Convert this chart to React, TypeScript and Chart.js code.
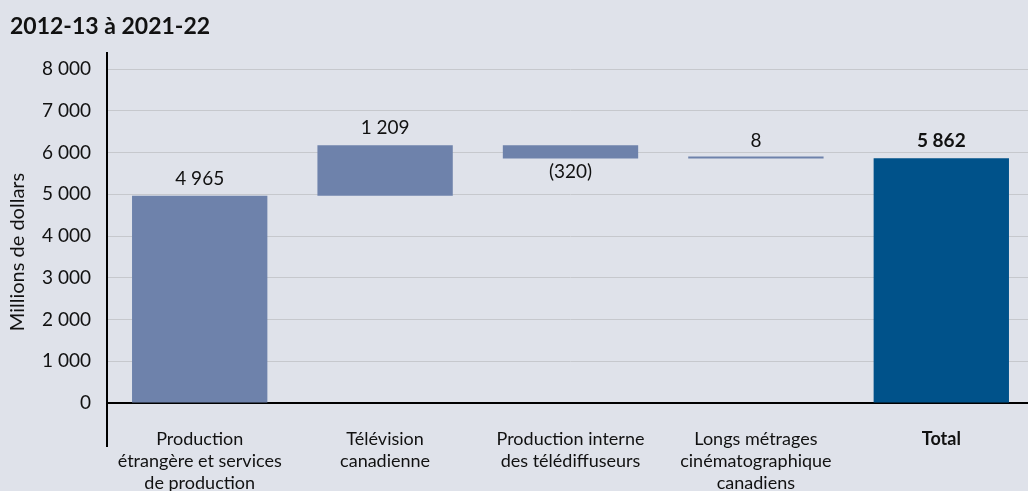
import React, { useEffect, useRef } from "react";
import { Chart, registerables } from "chart.js";

Chart.register(...registerables);

const title = "2012-13 à 2021-22";
const categories: (string | string[])[] = [
  ["Production", "étrangère et services", "de production"],
  ["Télévision", "canadienne"],
  ["Production interne", "des télédiffuseurs"],
  ["Longs métrages", "cinématographique", "canadiens"],
  "Total",
];
const changes = [4965, 1209, -320, 8];
const total = 5862;
const valueLabels = ["4 965", "1 209", "(320)", "8", "5 862"];
const yTicks = [0, 1000, 2000, 3000, 4000, 5000, 6000, 7000, 8000];
const yTitle = "Millions de dollars";

const BAR = "#6E82AB";
const TOTAL = "#00528A";
const BG = "#DFE2EA";
const FONT = "Lato, 'Open Sans', sans-serif";

function fmt(v: number) {
  return String(v).replace(/\B(?=(\d{3})+(?!\d))/g, " ");
}

export default function App() {
  const ref = useRef<HTMLCanvasElement>(null);
  useEffect(() => {
    document.body.style.margin = "0";
    const ranges: [number, number][] = [];
    let run = 0;
    changes.forEach((c) => {
      ranges.push([run, run + c]);
      run += c;
    });
    ranges.push([0, total]);

    const overlay = {
      id: "overlay",
      afterDraw(chart: any) {
        const { ctx, chartArea, scales } = chart;
        const y = scales.y;
        const meta = chart.getDatasetMeta(0);
        ctx.save();
        // title
        ctx.fillStyle = "#111";
        ctx.font = `bold 23px ${FONT}`;
        ctx.textBaseline = "middle";
        ctx.textAlign = "left";
        ctx.fillText(title, 10, 27);
        // y title
        ctx.save();
        ctx.translate(18, 252);
        ctx.rotate(-Math.PI / 2);
        ctx.textAlign = "center";
        ctx.font = `20px ${FONT}`;
        ctx.fillText(yTitle, 0, 0);
        ctx.restore();
        // left axis line
        ctx.strokeStyle = "#000";
        ctx.lineWidth = 2;
        ctx.beginPath();
        ctx.moveTo(chartArea.left, chartArea.top - 17);
        ctx.lineTo(chartArea.left, y.getPixelForValue(0) + 44);
        ctx.stroke();
        // value labels
        ctx.textAlign = "center";
        meta.data.forEach((bar: any, i: number) => {
          const r = ranges[i];
          const neg = r[1] < r[0];
          const top = y.getPixelForValue(Math.max(r[0], r[1]));
          const bot = y.getPixelForValue(Math.min(r[0], r[1]));
          ctx.font = `${i === 4 ? "bold " : ""}19px ${FONT}`;
          ctx.fillStyle = "#111";
          const yy = neg ? bot + 13 : top - 17;
          ctx.fillText(valueLabels[i], bar.x, yy);
        });
        ctx.restore();
      },
    };

    const chart = new Chart(ref.current!, {
      type: "bar",
      data: {
        labels: categories,
        datasets: [
          {
            data: ranges as any,
            backgroundColor: [BAR, BAR, BAR, BAR, TOTAL],
            borderWidth: 0,
            barPercentage: 0.73,
            categoryPercentage: 1,
            minBarLength: 2,
          },
        ],
      },
      options: {
        animation: false,
        responsive: false,
        maintainAspectRatio: false,
        layout: { padding: { top: 69, left: 0, right: 0, bottom: 0 } },
        plugins: { legend: { display: false }, tooltip: { enabled: false }, title: { display: false } },
        scales: {
          x: {
            grid: { display: false, drawTicks: false },
            border: { display: true, color: "#000", width: 2 },
            ticks: {
              padding: 25,
              color: "#111",
              maxRotation: 0,
              autoSkip: false,
              font: (c: any) => ({ family: FONT, size: 18, weight: c.index === 4 ? "bold" : "normal", lineHeight: 1.22 }),
            },
            afterFit: (s: any) => {
              s.height = 88;
            },
          },
          y: {
            min: 0,
            max: 8000,
            afterBuildTicks: (s: any) => {
              s.ticks = yTicks.map((v) => ({ value: v }));
            },
            grid: {
              color: (c: any) => (c.tick && c.tick.value === 0 ? "rgba(0,0,0,0)" : "#C6C8CD"),
              lineWidth: 1,
              drawTicks: false,
            },
            border: { display: false },
            ticks: {
              padding: 16,
              color: "#111",
              font: { family: FONT, size: 19 },
              callback: (v: any) => fmt(Number(v)),
            },
            afterFit: (s: any) => {
              s.width = 107;
            },
          },
        },
      },
      plugins: [overlay],
    });
    return () => chart.destroy();
  }, []);
  return (
    <div style={{ position: "fixed", left: 0, top: 0, width: 1028, height: 491, background: BG, overflow: "hidden" }}>
      <canvas ref={ref} width={1034} height={491} style={{ width: 1034, height: 491, display: "block" }} />
    </div>
  );
}
